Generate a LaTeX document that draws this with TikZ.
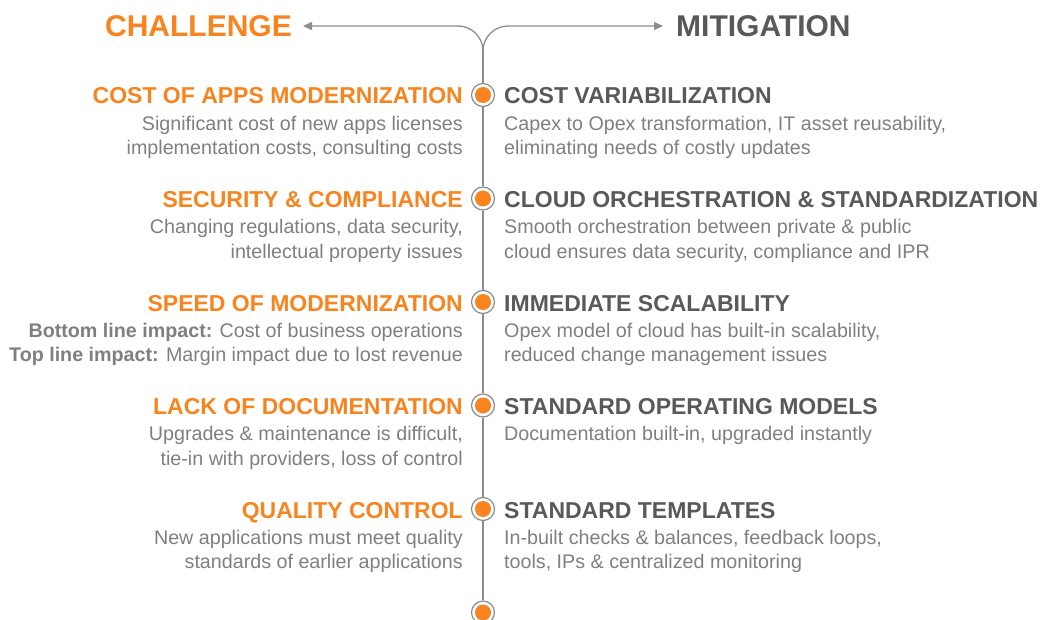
\documentclass[tikz,border=0pt]{standalone}
\usepackage{fontspec}
\setmainfont{Liberation Sans}
\usetikzlibrary{arrows.meta}

\definecolor{accent}{HTML}{F7841F}
\definecolor{headgray}{HTML}{595959}
\definecolor{textgray}{HTML}{7F7F7F}
\definecolor{linegray}{HTML}{8C8C8C}

\begin{document}
\begin{tikzpicture}[x=1pt, y=-1pt]

\def\spineX{483};
\def\rowstep{103.5};
\def\leftX{463};
\def\rightX{504};
\tikzset{
    title/.style={font=\fontsize{30}{32}\selectfont\bfseries, inner sep=0},
    heading/.style={font=\fontsize{23}{25}\selectfont\bfseries, inner sep=0},
    detail/.style={font=\fontsize{19.7}{24.5}\selectfont, text=textgray, inner sep=0},
    marker/.style={
        circle,
        draw=linegray,
        fill=white,
        line width=1.2pt,
        minimum size=23pt,
        inner sep=0,
        path picture={\fill[accent] (path picture bounding box.center) circle (8pt);}
    },
    spine/.style={draw=linegray, line width=1.3pt}
};

\useasboundingbox (0,0) rectangle (1041,620);

\node[title, text=accent, anchor=east] (challenge) at (292,26) {CHALLENGE};
\node[title, text=headgray, anchor=west] (mitigation) at (676,26) {MITIGATION};
\coordinate (fork) at (\spineX,52);

\foreach \i in {1,...,6} {
    \node[marker] (mark\i) at (\spineX,{95+(\i-1)*\rowstep}) {};
}

\draw[spine] (fork) -- (mark1);
\foreach \i [count=\j from 2] in {1,...,5} {
    \draw[spine] (mark\i) -- (mark\j);
}
\draw[spine, -{Triangle[length=9pt, width=8pt]}, rounded corners=25pt]
    (fork) |- ([xshift=11pt]challenge.east);
\draw[spine, -{Triangle[length=9pt, width=8pt]}, rounded corners=25pt]
    (fork) |- ([xshift=-13pt]mitigation.west);

% challenges on the left
\foreach \head/\body [count=\i] in {
    COST OF APPS MODERNIZATION/{Significant cost of new apps licenses\\implementation costs, consulting costs},
    SECURITY \& COMPLIANCE/{Changing regulations, data security,\\intellectual property issues},
    SPEED OF MODERNIZATION/{\textbf{Bottom line impact:} Cost of business operations\\\textbf{Top line impact:} Margin impact due to lost revenue},
    LACK OF DOCUMENTATION/{Upgrades \& maintenance is difficult,\\tie-in with providers, loss of control},
    QUALITY CONTROL/{New applications must meet quality\\standards of earlier applications}} {
    \node[heading, text=accent, anchor=base east] (chal\i) at (\leftX,{104+(\i-1)*\rowstep}) {\head};
    \node[detail, anchor=north east, align=right] (chaltext\i) at (\leftX,{116+(\i-1)*\rowstep}) {\body};
}

% mitigations on the right
\foreach \head/\body [count=\i] in {
    COST VARIABILIZATION/{Capex to Opex transformation, IT asset reusability,\\eliminating needs of costly updates},
    CLOUD ORCHESTRATION \& STANDARDIZATION/{Smooth orchestration between private \& public\\cloud ensures data security, compliance and IPR},
    IMMEDIATE SCALABILITY/{Opex model of cloud has built-in scalability,\\reduced change management issues},
    STANDARD OPERATING MODELS/{Documentation built-in, upgraded instantly},
    STANDARD TEMPLATES/{In-built checks \& balances, feedback loops,\\tools, IPs \& centralized monitoring}} {
    \node[heading, text=headgray, anchor=base west] (miti\i) at (\rightX,{104+(\i-1)*\rowstep}) {\head};
    \node[detail, anchor=north west, align=left] (mititext\i) at (\rightX,{116+(\i-1)*\rowstep}) {\body};
}

\end{tikzpicture}
\end{document}
